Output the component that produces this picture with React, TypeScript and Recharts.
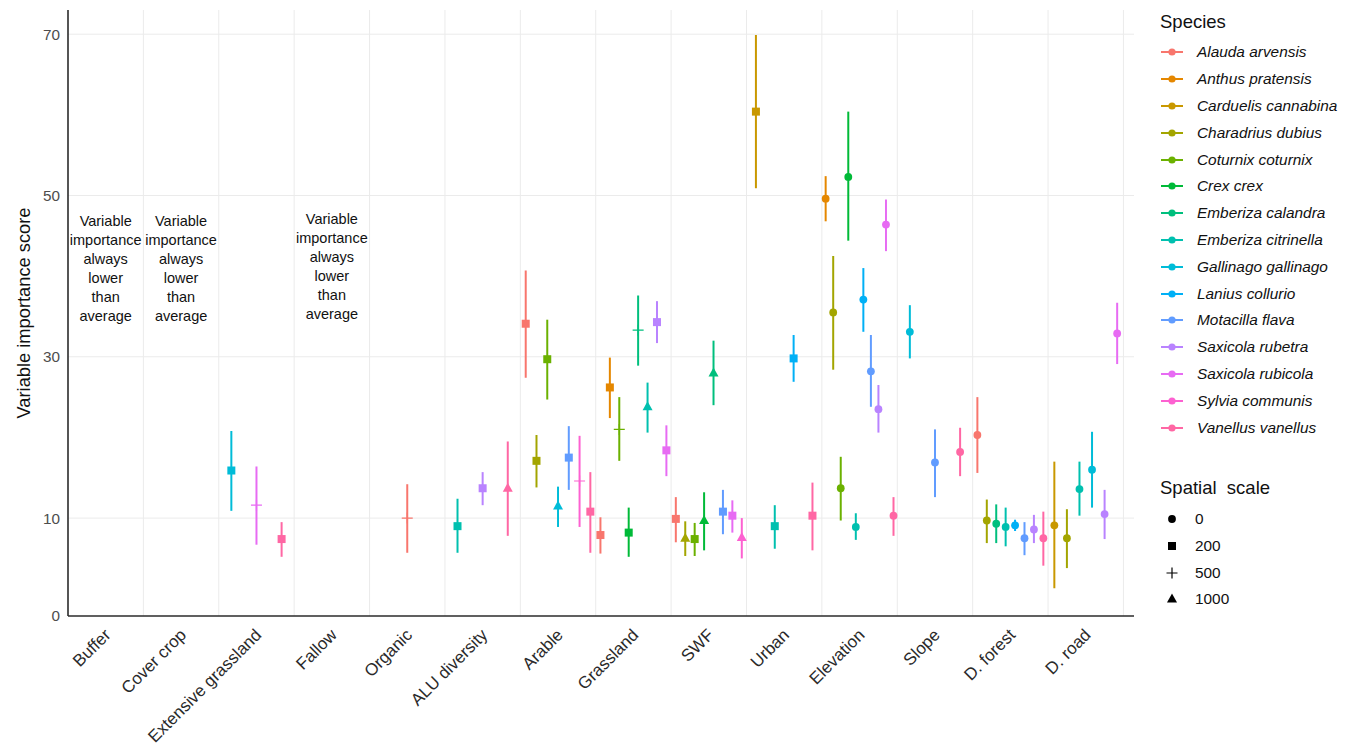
import React from "react";
import { ComposedChart, Scatter, ErrorBar, XAxis, YAxis, CartesianGrid, Label } from "recharts";

const categories = [
  "Buffer", "Cover crop", "Extensive grassland", "Fallow", "Organic", "ALU diversity", "Arable",
  "Grassland", "SWF", "Urban", "Elevation", "Slope", "D. forest", "D. road",
];

const species = [
  "Alauda arvensis", "Anthus pratensis", "Carduelis cannabina", "Charadrius dubius",
  "Coturnix coturnix", "Crex crex", "Emberiza calandra", "Emberiza citrinella",
  "Gallinago gallinago", "Lanius collurio", "Motacilla flava", "Saxicola rubetra",
  "Saxicola rubicola", "Sylvia communis", "Vanellus vanellus",
];

// ggplot default hue palette for 15 levels
const speciesColors = [
  "#F8766D", "#E58700", "#C99800", "#A3A500", "#6BB100", "#00BA38", "#00BF7D", "#00C0AF",
  "#00BCD8", "#00B0F6", "#619CFF", "#B983FF", "#E76BF3", "#FD61D1", "#FF67A4",
];

const spatialScales = [0, 200, 500, 1000];

// rows: [species index, spatial scale, score, lower, upper]
type Row = [number, number, number, number, number];

const buffer: Row[] = [];
const coverCrop: Row[] = [];
const extensiveGrassland: Row[] = [
  [8, 200, 15.9, 10.9, 20.8],
  [12, 500, 11.6, 6.7, 16.4],
  [14, 200, 7.4, 5.2, 9.5],
];
const fallow: Row[] = [];
const organic: Row[] = [[0, 500, 10.0, 5.7, 14.2]];
const aluDiversity: Row[] = [
  [7, 200, 9.0, 5.7, 12.4],
  [11, 200, 13.7, 11.6, 15.7],
  [14, 1000, 13.7, 7.8, 19.5],
];
const arable: Row[] = [
  [0, 200, 34.1, 27.4, 40.7],
  [3, 200, 17.1, 13.8, 20.3],
  [4, 200, 29.7, 24.7, 34.6],
  [8, 1000, 11.5, 8.9, 13.9],
  [10, 200, 17.5, 13.5, 21.4],
  [13, 500, 14.6, 8.9, 20.2],
  [14, 200, 10.8, 5.7, 15.7],
];
const grassland: Row[] = [
  [0, 200, 7.9, 5.6, 10.1],
  [1, 200, 26.2, 22.4, 29.9],
  [4, 500, 21.0, 17.1, 25.0],
  [5, 200, 8.2, 5.2, 11.3],
  [6, 500, 33.3, 28.9, 37.6],
  [7, 1000, 23.8, 20.6, 26.8],
  [11, 200, 34.3, 31.7, 36.9],
  [12, 200, 18.4, 15.2, 21.5],
];
const swf: Row[] = [
  [0, 200, 9.9, 7.0, 12.6],
  [3, 1000, 7.5, 5.3, 9.6],
  [4, 200, 7.4, 5.3, 9.4],
  [5, 1000, 9.7, 6.0, 13.2],
  [6, 1000, 28.0, 24.0, 32.0],
  [10, 200, 10.8, 8.0, 13.5],
  [12, 200, 10.3, 8.2, 12.2],
  [13, 1000, 7.6, 5.0, 10.0],
];
const urban: Row[] = [
  [2, 200, 60.4, 50.9, 69.9],
  [7, 200, 9.0, 6.2, 11.6],
  [9, 200, 29.8, 26.9, 32.7],
  [14, 200, 10.3, 6.0, 14.4],
];
const elevation: Row[] = [
  [1, 0, 49.6, 46.8, 52.4],
  [3, 0, 35.5, 28.4, 42.5],
  [4, 0, 13.7, 9.7, 17.6],
  [5, 0, 52.3, 44.4, 60.4],
  [7, 0, 8.9, 7.3, 10.6],
  [9, 0, 37.1, 33.1, 41.0],
  [10, 0, 28.2, 23.8, 32.7],
  [11, 0, 23.5, 20.6, 26.5],
  [12, 0, 46.4, 43.1, 49.5],
  [14, 0, 10.3, 7.8, 12.6],
];
const slope: Row[] = [
  [8, 0, 33.1, 29.8, 36.4],
  [10, 0, 16.9, 12.6, 21.0],
  [14, 0, 18.2, 15.2, 21.2],
];
const distForest: Row[] = [
  [0, 0, 20.3, 15.6, 25.0],
  [3, 0, 9.7, 6.9, 12.3],
  [6, 0, 9.3, 6.9, 11.7],
  [7, 0, 8.9, 6.5, 11.3],
  [9, 0, 9.1, 8.4, 9.8],
  [10, 0, 7.5, 5.4, 9.5],
  [11, 0, 8.6, 6.9, 10.4],
  [14, 0, 7.5, 4.1, 10.8],
];
const distRoad: Row[] = [
  [2, 0, 9.1, 1.3, 17.0],
  [3, 0, 7.5, 3.8, 11.1],
  [7, 0, 13.6, 10.3, 17.0],
  [8, 0, 16.0, 11.3, 20.7],
  [11, 0, 10.5, 7.4, 13.5],
  [12, 0, 32.9, 29.1, 36.7],
];

const byCategory = [
  buffer, coverCrop, extensiveGrassland, fallow, organic, aluDiversity, arable,
  grassland, swf, urban, elevation, slope, distForest, distRoad,
];

// categories where no variable ever beat the average
const noteCategories = [0, 1, 3];
const noteScores = [40.9, 40.9, 41.2];
const noteLines = ["Variable", "importance", "always", "lower", "than", "average"];

const yTicks = [-2.14, 10, 30, 50, 70]; // the bottom of the axis is labelled 0 in the figure
const DODGE = 1;

const series = species.map((name, s) => ({
  name,
  color: speciesColors[s],
  data: byCategory.flatMap((rows, c) =>
    rows
      .map((r, j) => ({ r, j, n: rows.length }))
      .filter((o) => o.r[0] === s)
      .map(({ r, j, n }) => ({
        x: c + ((j - (n - 1) / 2) * DODGE) / n,
        y: r[2],
        err: [r[2] - r[3], r[4] - r[2]],
        scale: r[1],
      }))
  ),
}));

const notes = noteCategories.map((c, i) => ({ x: c, y: noteScores[i] }));

const FONT = "'Liberation Sans', Arial, Helvetica, sans-serif";

function shapePath(scale: number, cx: number, cy: number, color: string) {
  if (scale === 0) return <circle cx={cx} cy={cy} r={3.9} fill={color} />;
  if (scale === 200) return <rect x={cx - 4} y={cy - 4} width={8} height={8} fill={color} />;
  if (scale === 500)
    return (
      <path
        d={`M${cx - 5.5},${cy}H${cx + 5.5}M${cx},${cy - 5.5}V${cy + 5.5}`}
        stroke={color}
        strokeWidth={1.2}
        fill="none"
      />
    );
  return <path d={`M${cx},${cy - 5.5}L${cx + 5},${cy + 3.5}L${cx - 5},${cy + 3.5}Z`} fill={color} />;
}

const makeShape = (color: string) => (props: any) => {
  const { cx, cy, payload } = props;
  if (cx == null || cy == null) return <g />;
  return shapePath(payload.scale, cx, cy, color);
};

const NoteShape = (props: any) => {
  const { cx, cy } = props;
  if (cx == null || cy == null) return <g />;
  const lh = 19;
  const top = cy - ((noteLines.length - 1) * lh) / 2;
  return (
    <text textAnchor="middle" fontSize={14.5} fill="#111" fontFamily={FONT}>
      {noteLines.map((t, i) => (
        <tspan key={i} x={cx} y={top + i * lh} dominantBaseline="central">
          {t}
        </tspan>
      ))}
    </text>
  );
};

const XTick = (props: any) => {
  const { x, y, payload } = props;
  const ax = x + 6;
  const ay = y + 12;
  return (
    <text
      x={ax}
      y={ay}
      transform={`rotate(-45 ${ax} ${ay})`}
      textAnchor="end"
      fontSize={17}
      fill="#2a2a2a"
      fontFamily={FONT}
    >
      {categories[payload.value]}
    </text>
  );
};

function LegendGlyph({ color }: { color: string }) {
  return (
    <svg width={24} height={10}>
      <line x1={1} y1={5} x2={23} y2={5} stroke={color} strokeWidth={2} />
      <circle cx={12} cy={5} r={3.6} fill={color} />
    </svg>
  );
}

function Legend() {
  const rowH = 26.8;
  return (
    <div style={{ position: "absolute", left: 1152, top: 0, fontFamily: FONT, color: "#111" }}>
      <div style={{ position: "absolute", top: 13.7 - 11, left: 0, fontSize: 18.5, whiteSpace: "nowrap", lineHeight: "22px" }}>
        Species
      </div>
      {species.map((name, i) => (
        <div
          key={name}
          style={{
            position: "absolute",
            top: 44.3 + i * rowH - 10,
            left: 0,
            height: 20,
            display: "flex",
            alignItems: "center",
            whiteSpace: "nowrap",
          }}
        >
          <LegendGlyph color={speciesColors[i]} />
          <span style={{ marginLeft: 13, fontSize: 15.4, fontStyle: "italic" }}>{name}</span>
        </div>
      ))}
      <div style={{ position: "absolute", top: 480 - 11, left: 0, fontSize: 18.5, whiteSpace: "pre", lineHeight: "22px" }}>
        {"Spatial  scale"}
      </div>
      {spatialScales.map((s, i) => (
        <div
          key={s}
          style={{
            position: "absolute",
            top: 511 + i * rowH - 10,
            left: 0,
            height: 20,
            display: "flex",
            alignItems: "center",
            whiteSpace: "nowrap",
          }}
        >
          <svg width={24} height={14}>
            {shapePath(s, 12, 7, "#000")}
          </svg>
          <span style={{ marginLeft: 11, fontSize: 15.4 }}>{s}</span>
        </div>
      ))}
    </div>
  );
}

export default function App() {
  return (
    <div style={{ position: "relative", width: 1343, height: 741, fontFamily: FONT, background: "#fff" }}>
      <ComposedChart width={1140} height={741} margin={{ top: 2, right: 14, bottom: 8, left: 0 }}>
        <CartesianGrid
          stroke="#ebebeb"
          strokeWidth={1}
          horizontalValues={[10, 30, 50, 70]}
          verticalValues={[0.5, 1.5, 2.5, 3.5, 4.5, 5.5, 6.5, 7.5, 8.5, 9.5, 10.5, 11.5, 12.5, 13.5]}
        />
        <XAxis
          type="number"
          dataKey="x"
          domain={[-0.5, 13.64]}
          ticks={categories.map((_, i) => i)}
          interval={0}
          tick={<XTick />}
          tickLine={false}
          axisLine={{ stroke: "#2b2b2b", strokeWidth: 1.6 }}
          height={125}
          allowDataOverflow
        />
        <YAxis
          type="number"
          dataKey="y"
          domain={[yTicks[0], 73]}
          ticks={yTicks}
          interval={0}
          tickFormatter={(v: number) => (v < 0 ? "0" : String(v))}
          tick={{ fill: "#4d4d4d", fontSize: 15.3, fontFamily: FONT }}
          tickLine={false}
          axisLine={{ stroke: "#2b2b2b", strokeWidth: 1.6 }}
          width={60}
          allowDataOverflow
        >
          <Label
            content={(p: any) => {
              const vb = p.viewBox || { y: 2, height: 606 };
              const cy = vb.y + vb.height / 2;
              const cx = 15;
              return (
                <text
                  x={cx}
                  y={cy}
                  transform={`rotate(-90 ${cx} ${cy})`}
                  textAnchor="middle"
                  dominantBaseline="central"
                  fontSize={18.3}
                  fill="#111"
                  fontFamily={FONT}
                >
                  Variable importance score
                </text>
              );
            }}
          />
        </YAxis>
        <Scatter data={notes} dataKey="y" shape={NoteShape} isAnimationActive={false} />
        {series.map((s) => (
          <Scatter
            key={s.name}
            name={s.name}
            data={s.data}
            dataKey="y"
            fill={s.color}
            shape={makeShape(s.color)}
            isAnimationActive={false}
          >
            <ErrorBar dataKey="err" direction="y" width={0} stroke={s.color} strokeWidth={2} isAnimationActive={false} />
          </Scatter>
        ))}
      </ComposedChart>
      <Legend />
    </div>
  );
}
